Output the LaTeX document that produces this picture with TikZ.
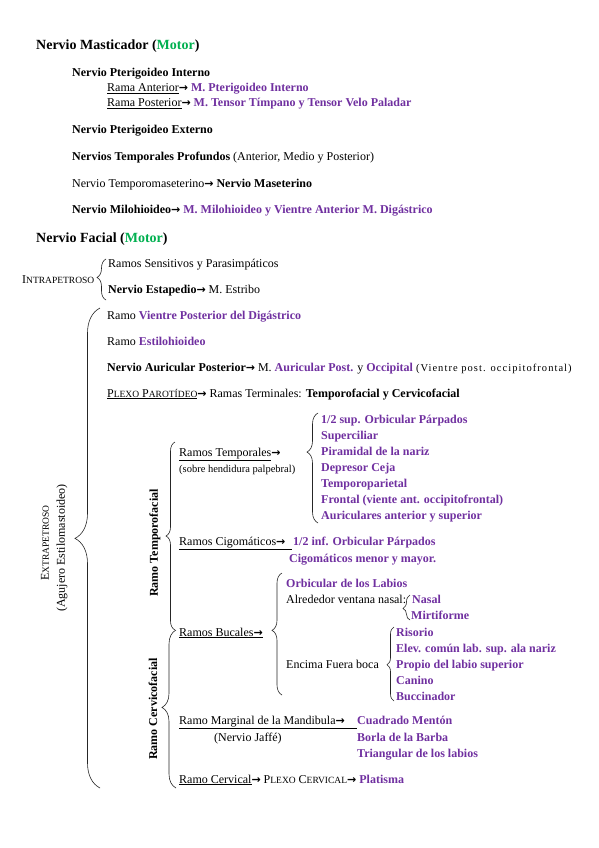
\documentclass[tikz,border=0pt]{standalone}
\usepackage{fontspec}
\setmainfont{Liberation Serif}
\newfontfamily\arrowfont{DejaVu Sans}
\usetikzlibrary{decorations.pathreplacing}
\definecolor{motorgreen}{HTML}{00B050}
\definecolor{muscpurple}{HTML}{7030A0}
\newcommand{\musc}[1]{\textcolor{muscpurple}{\textbf{#1}}}
\newcommand{\versal}[2]{#1{\fontsize{9.5}{11}\selectfont #2}}
\newcommand{\arr}{{\arrowfont\bfseries\fontsize{11}{13}\selectfont →}}

\begin{document}
\begin{tikzpicture}[x=1pt, y=-1pt, font=\fontsize{12}{14}\selectfont,
    txt/.style={anchor=base west, inner sep=0pt},
    hdr/.style={txt, font=\fontsize{14}{17}\selectfont\bfseries},
    note/.style={txt, font=\fontsize{10}{12}\selectfont},
    vert/.style={rotate=90, inner sep=0pt},
    brc/.style 2 args={decorate, decoration={brace, amplitude=#1, aspect=#2},
          line width=0.6pt, draw=black!85}]
  \useasboundingbox[fill=white] (0,0) rectangle (599,848);

  % Nervio masticador
  \node[hdr] (mast) at (36,50) {Nervio Masticador ({\color{motorgreen}Motor})};
  \node[txt] (pti) at (72,77) {\textbf{Nervio Pterigoideo Interno}};
  \node[txt] (rant) at (107,92) {\underline{Rama Anterior}\arr\ \musc{M. Pterigoideo Interno}};
  \node[txt] (rpos) at (107,107) {\underline{Rama Posterior}\arr\ \musc{M. Tensor Tímpano y Tensor Velo Paladar}};
  \node[txt] (pte) at (72,134) {\textbf{Nervio Pterigoideo Externo}};
  \node[txt] (tprof) at (72,160) {\textbf{Nervios Temporales Profundos} (Anterior, Medio y Posterior)};
  \node[txt] (tmas) at (72,187) {Nervio Temporomaseterino\arr\ \textbf{Nervio Maseterino}};
  \node[txt] (milo) at (72,213) {\textbf{Nervio Milohioideo}\arr\ \musc{M. Milohioideo y Vientre Anterior M. Digástrico}};

  % Nervio facial
  \node[hdr] (fac) at (36,242) {Nervio Facial ({\color{motorgreen}Motor})};
  \node[txt] (intra) at (22,283) {\versal{I}{NTRAPETROSO}};
  \node[txt] (sens) at (108,267) {Ramos Sensitivos y Parasimpáticos};
  \node[txt] (estap) at (108,293) {\textbf{Nervio Estapedio}\arr\ M. Estribo};
  \coordinate (intraT) at (106,259);
  \coordinate (intraB) at (106,300);
  \draw[brc={9pt}{0.55}] (intraB) -- (intraT);

  \node[vert] (extra) at (45,543) {\versal{E}{XTRAPETROSO}};
  \node[vert] (aguj) at (62,548) {(Agujero Estilomastoideo)};
  \coordinate (extraT) at (100,308);
  \coordinate (extraB) at (100,788);
  \draw[brc={25pt}{0.52}] (extraB) -- (extraT);

  \node[txt] (vpd) at (107,319) {Ramo \musc{Vientre Posterior del Digástrico}};
  \node[txt] (esth) at (107,345) {Ramo \musc{Estilohioideo}};
  \node[txt] (aurp) at (107,371) {\textbf{Nervio Auricular Posterior}\arr\ M. \musc{Auricular Post.} y \musc{Occipital} {\addfontfeature{LetterSpace=10}\fontsize{10.5}{12}\selectfont(Vientre post. occipitofrontal)}};
  \node[txt] (plexo) at (107,397) {\underline{\versal{P}{LEXO} \versal{P}{AROTÍDEO}}\arr\ Ramas Terminales: \textbf{Temporofacial y Cervicofacial}};

  % Ramo temporofacial
  \node[vert, font=\fontsize{12}{14}\selectfont\bfseries] (tfac) at (155,543) {Ramo Temporofacial};
  \coordinate (tfacT) at (175,442);
  \coordinate (tfacB) at (175,630);
  \draw[brc={9pt}{0.5}] (tfacB) -- (tfacT);

  \node[txt] (rtemp) at (179,456) {\underline{Ramos Temporales}\arr};
  \node[note, font=\fontsize{10.5}{12}\selectfont] (sobre) at (179,472) {(sobre hendidura palpebral)};
  \coordinate (tlistT) at (318,413);
  \coordinate (tlistB) at (318,523);
  \draw[brc={11pt}{0.645}] (tlistB) -- (tlistT);
  \node[txt] (t1) at (321,423) {\musc{1/2 sup. Orbicular Párpados}};
  \node[txt] (t2) at (321,439) {\musc{Superciliar}};
  \node[txt] (t3) at (321,455) {\musc{Piramidal de la nariz}};
  \node[txt] (t4) at (321,471) {\musc{Depresor Ceja}};
  \node[txt] (t5) at (321,487) {\musc{Temporoparietal}};
  \node[txt] (t6) at (321,503) {\musc{Frontal (viente ant. occipitofrontal)}};
  \node[txt] (t7) at (321,519) {\musc{Auriculares anterior y superior}};

  \node[txt] (cigo) at (179,545) {\underline{\makebox[113pt][l]{Ramos Cigomáticos\arr}}};
  \node[txt] (cig1) at (293,545) {\musc{1/2 inf. Orbicular Párpados}};
  \node[txt] (cig2) at (289,562) {\musc{Cigomáticos menor y mayor.}};

  % Ramo cervicofacial
  \node[vert, font=\fontsize{12}{14}\selectfont\bfseries] (cfac) at (153,709) {Ramo Cervicofacial};
  \coordinate (cfacT) at (176,630);
  \coordinate (cfacB) at (176,788);
  \draw[brc={14pt}{0.51}] (cfacB) -- (cfacT);

  \node[txt] (buc) at (179,636) {\underline{Ramos Bucales\arr}};
  \coordinate (bucT) at (282,573);
  \coordinate (bucB) at (282,695);
  \draw[brc={10pt}{0.53}] (bucB) -- (bucT);
  \node[txt] (orbl) at (286,587) {\musc{Orbicular de los Labios}};
  \node[txt] (alred) at (286,603) {Alrededor ventana nasal:};
  \coordinate (nasT) at (410,595);
  \coordinate (nasB) at (410,620);
  \draw[brc={7pt}{0.46}] (nasB) -- (nasT);
  \node[txt] (nas) at (412,603) {\musc{Nasal}};
  \node[txt] (mirt) at (411,619) {\musc{Mirtiforme}};
  \node[txt] (encima) at (286,668) {Encima Fuera boca};
  \coordinate (encT) at (394,627);
  \coordinate (encB) at (394,701);
  \draw[brc={7pt}{0.49}] (encB) -- (encT);
  \node[txt] (b1) at (396,636) {\musc{Risorio}};
  \node[txt] (b2) at (396,652) {\musc{Elev. común lab. sup. ala nariz}};
  \node[txt] (b3) at (396,668) {\musc{Propio del labio superior}};
  \node[txt] (b4) at (396,684) {\musc{Canino}};
  \node[txt] (b5) at (396,700) {\musc{Buccinador}};

  \node[txt] (marg) at (179,724) {\underline{\makebox[178pt][l]{Ramo Marginal de la Mandibula\arr}}};
  \node[txt] (jaffe) at (214,741) {(Nervio Jaffé)};
  \node[txt] (m1) at (357,724) {\musc{Cuadrado Mentón}};
  \node[txt] (m2) at (357,741) {\musc{Borla de la Barba}};
  \node[txt] (m3) at (357,757) {\musc{Triangular de los labios}};

  \node[txt] (cerv) at (179,783) {\underline{Ramo Cervical}\arr\ \versal{P}{LEXO} \versal{C}{ERVICAL}\arr\ \musc{Platisma}};
\end{tikzpicture}
\end{document}
